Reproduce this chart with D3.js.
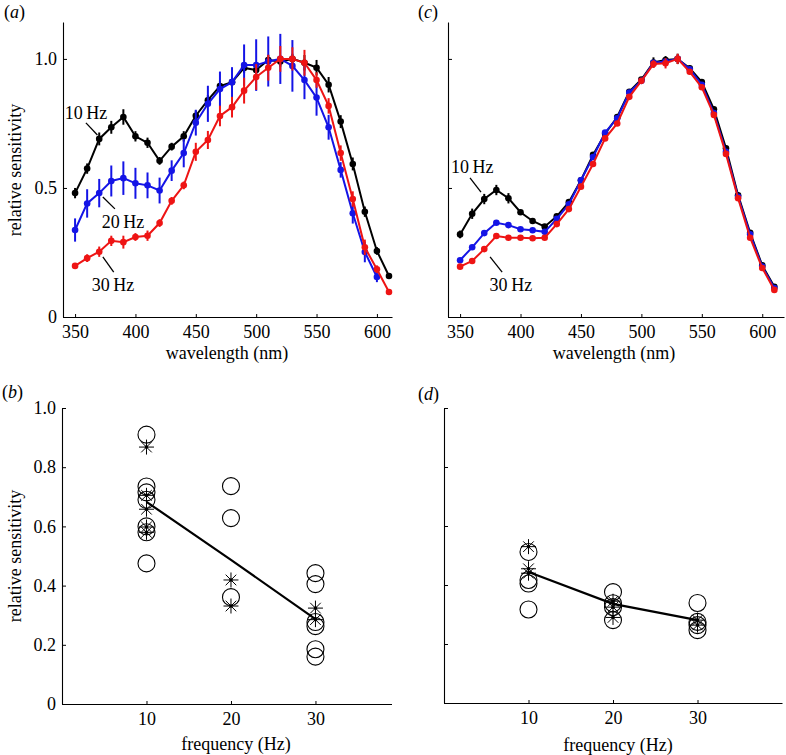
<!DOCTYPE html>
<html>
<head>
<meta charset="utf-8">
<script src="https://cdn.jsdelivr.net/npm/d3@7/dist/d3.min.js"></script>
<style>
  html, body { margin: 0; padding: 0; background: #fff; }
  svg { display: block; }
  svg text { font-family: "Liberation Serif", "Times New Roman", Times, serif !important; fill: #000; }
</style>
</head>
<body>
<svg id="chart" width="786" height="755" font-family="Liberation Serif"></svg>
<script>
// ---------------- DATA ----------------
const wavelengths = [350,360,370,380,390,400,410,420,430,440,450,460,470,480,490,500,510,520,530,540,550,560,570,580,590,600,610];

// Panel (a)
const a10 = [0.48,0.575,0.69,0.735,0.775,0.70,0.675,0.605,0.66,0.70,0.78,0.84,0.895,0.91,0.965,0.957,0.996,0.99,1.0,0.985,0.966,0.90,0.757,0.593,0.408,0.256,0.159];
const a10err = [0.02,0.02,0.025,0.025,0.03,0.02,0.02,0.015,0.015,0.02,0.02,0.02,0.02,0.02,0.02,0.02,0.02,0.02,0.02,0.03,0.03,0.03,0.025,0.025,0.02,0.015,0.01];
const a20 = [0.337,0.44,0.48,0.527,0.538,0.518,0.51,0.49,0.567,0.635,0.753,0.826,0.883,0.91,0.976,0.976,0.99,1.0,0.973,0.918,0.85,0.735,0.57,0.402,0.252,0.155];
const a20err = [0.045,0.055,0.055,0.06,0.065,0.06,0.05,0.05,0.04,0.055,0.05,0.07,0.068,0.058,0.08,0.10,0.097,0.097,0.10,0.074,0.07,0.048,0.03,0.04,0.04,0.02];
const a30 = [0.198,0.228,0.253,0.295,0.29,0.31,0.315,0.364,0.45,0.51,0.64,0.686,0.779,0.813,0.877,0.93,0.966,1.0,1.0,0.985,0.918,0.818,0.635,0.457,0.27,0.185,0.097];
const a30err = [0.01,0.015,0.02,0.02,0.025,0.015,0.02,0.015,0.015,0.015,0.035,0.035,0.04,0.04,0.05,0.05,0.05,0.05,0.045,0.05,0.03,0.03,0.03,0.03,0.03,0.015,0.01];

// Panel (c)
const c10 = [0.32,0.40,0.457,0.492,0.46,0.406,0.372,0.35,0.39,0.445,0.53,0.628,0.71,0.775,0.873,0.92,0.986,0.996,1.0,0.964,0.91,0.805,0.654,0.472,0.326,0.20,0.117];
const c10err = [0.015,0.02,0.02,0.02,0.02,0.01,0.01,0.01,0.01,0.01,0.01,0.01,0.01,0.01,0.01,0.01,0.02,0.015,0.02,0.01,0.01,0.01,0.01,0.01,0.01,0.01,0.005];
const c20 = [0.22,0.27,0.325,0.365,0.356,0.34,0.336,0.33,0.38,0.437,0.53,0.62,0.715,0.77,0.87,0.915,0.985,0.99,1.0,0.96,0.90,0.79,0.64,0.466,0.32,0.195,0.112];
const c20err = [0.008,0.008,0.008,0.008,0.008,0.006,0.006,0.006,0.006,0.006,0.006,0.008,0.008,0.008,0.008,0.008,0.01,0.01,0.01,0.008,0.008,0.008,0.008,0.006,0.006,0.006,0.005];
const c30 = [0.195,0.217,0.263,0.314,0.307,0.307,0.305,0.307,0.36,0.418,0.505,0.593,0.692,0.75,0.853,0.915,0.98,0.983,1.0,0.95,0.89,0.783,0.632,0.46,0.307,0.19,0.105];
const c30err = [0.006,0.006,0.008,0.008,0.006,0.006,0.006,0.006,0.006,0.008,0.008,0.01,0.01,0.01,0.01,0.01,0.015,0.02,0.02,0.01,0.01,0.01,0.01,0.01,0.008,0.006,0.005];

// Panel (b) / (d): frequency scatter
const freqs = [10, 20, 30];
const bCircles = [[0.91,0.735,0.715,0.69,0.60,0.58,0.475],[0.736,0.628,0.361],[0.442,0.405,0.277,0.263,0.185,0.16]];
const bStars   = [[0.868,0.705,0.658,0.598,0.58],[0.419,0.331],[0.324,0.285]];
const bMean    = [0.683,0.487,0.287];
const dCircles = [[0.512,0.417,0.405,0.317],[0.376,0.338,0.325,0.281],[0.339,0.275,0.264,0.247]];
const dStars   = [[0.53,0.455,0.44],[0.345,0.325,0.29],[0.281,0.264]];
const dMean    = [0.444,0.336,0.281];

// tick labels
const ticksA = [0, 0.5, 1.0];
const ticksB = [0, 0.2, 0.4, 0.6, 0.8, 1.0];
const ticksWave = [350,400,450,500,550,600];
const ticksFreq = [10,20,30];

const seriesColors = {k:"#000000", b:"#1414e6", r:"#ee1414"};

// ---------------- DRAW ----------------
const svg = d3.select("#chart");
const FS = 18;
const FONT = "Liberation Serif";

function fmt(d){ return d === 0 ? "0" : d3.format(".1f")(d); }

function drawAxes(g, x, y, yTicks, showYLabels, xTicks, xTitle, yTitle, xTitlePos, yTitlePos) {
  const yAx = d3.axisLeft(y).tickValues(yTicks).tickSizeInner(-4).tickSizeOuter(0).tickPadding(6)
      .tickFormat(showYLabels ? fmt : () => "");
  const gy = g.append("g").attr("transform", `translate(${x.range()[0]},0)`).call(yAx);
  const xAx = d3.axisBottom(x).tickValues(xTicks).tickSizeInner(-3).tickSizeOuter(0).tickPadding(8).tickFormat(d3.format("d"));
  const gx = g.append("g").attr("transform", `translate(0,${y.range()[0]})`).call(xAx);
  [gx, gy].forEach(a => {
    a.attr("font-family", FONT).attr("font-size", FS);
    a.selectAll("text").attr("fill", "#000");
    a.selectAll("line").attr("stroke", "#000");
    a.select(".domain").attr("stroke", "#000").attr("stroke-width", 1.1);
  });
  if (xTitle) g.append("text").attr("x", xTitlePos[0]).attr("y", xTitlePos[1]).attr("text-anchor","middle")
      .attr("font-size", FS).text(xTitle);
  if (yTitle) g.append("text").attr("transform", `translate(${yTitlePos[0]},${yTitlePos[1]}) rotate(-90)`)
      .attr("text-anchor","middle").attr("font-size", FS).text(yTitle);
}

function panelLabel(x0, y0, letter) {
  const t = svg.append("text").attr("x", x0).attr("y", y0).attr("font-size", FS);
  t.append("tspan").text("(");
  t.append("tspan").attr("font-style","italic").text(letter);
  t.append("tspan").text(")");
}

function drawSeries(g, x, y, vals, errs, color) {
  const pts = vals.map((v,i) => ({w: wavelengths[i], v: v, e: errs[i]}));
  g.append("g").selectAll("line").data(pts).join("line")
    .attr("x1", d => x(d.w)).attr("x2", d => x(d.w))
    .attr("y1", d => y(d.v - d.e)).attr("y2", d => y(d.v + d.e))
    .attr("stroke", color).attr("stroke-width", 2);
  g.append("path").datum(pts)
    .attr("d", d3.line().x(d => x(d.w)).y(d => y(d.v)))
    .attr("fill","none").attr("stroke", color).attr("stroke-width", 2);
  g.append("g").selectAll("circle").data(pts).join("circle")
    .attr("cx", d => x(d.w)).attr("cy", d => y(d.v)).attr("r", 3.3).attr("fill", color);
}

function annot(g, x, y, a) {
  g.append("text").attr("x", x(a.tx)).attr("y", y(a.ty)).attr("text-anchor","middle")
    .attr("font-size", FS).text(a.text);
  g.append("line").attr("x1", x(a.l[0])).attr("y1", y(a.l[1])).attr("x2", x(a.l[2])).attr("y2", y(a.l[3]))
    .attr("stroke","#000").attr("stroke-width",1.3);
}

// Panel (a)
{
  const g = svg.append("g");
  const x = d3.scaleLinear().domain([340, 612.5]).range([63, 392]);
  const y = d3.scaleLinear().domain([0, 1.143]).range([317, 22]);
  drawAxes(g, x, y, ticksA, true, ticksWave, "wavelength (nm)", "relative sensitivity", [227, 359], [21, 170]);
  drawSeries(g, x, y, a10, a10err, seriesColors.k);
  drawSeries(g, x, y, a20, a20err, seriesColors.b);
  drawSeries(g, x, y, a30, a30err, seriesColors.r);
  annot(g, x, y, {text:"10\u2009Hz", tx:359, ty:0.767, l:[359,0.752,368.5,0.705]});
  annot(g, x, y, {text:"20\u2009Hz", tx:389.7, ty:0.345, l:[373,0.465,383,0.419]});
  annot(g, x, y, {text:"30\u2009Hz", tx:381.4, ty:0.10, l:[373,0.233,382,0.174]});
  panelLabel(4, 18, "a");
}

// Panel (c)
{
  const g = svg.append("g");
  const x = d3.scaleLinear().domain([340, 618]).range([448, 784]);
  const y = d3.scaleLinear().domain([0, 1.143]).range([317, 22]);
  drawAxes(g, x, y, ticksA, false, ticksWave, "wavelength (nm)", null, [614, 359], null);
  drawSeries(g, x, y, c10, c10err, seriesColors.k);
  drawSeries(g, x, y, c20, c20err, seriesColors.b);
  drawSeries(g, x, y, c30, c30err, seriesColors.r);
  annot(g, x, y, {text:"10\u2009Hz", tx:360, ty:0.558, l:[358.2,0.539,367.3,0.484]});
  annot(g, x, y, {text:"30\u2009Hz", tx:392, ty:0.10, l:[374.8,0.233,384.8,0.174]});
  panelLabel(418, 18, "c");
}

function drawScatter(g, x, y, circles, stars, mean) {
  g.append("path").datum(mean.map((v,i) => [freqs[i], v]))
    .attr("d", d3.line().x(d => x(d[0])).y(d => y(d[1])))
    .attr("fill","none").attr("stroke","#000").attr("stroke-width",2.2);
  circles.forEach((arr, i) => {
    g.append("g").selectAll("circle").data(arr).join("circle")
      .attr("cx", x(freqs[i])).attr("cy", d => y(d)).attr("r", 8.5)
      .attr("fill","none").attr("stroke","#000").attr("stroke-width",1.1);
  });
  const R = 7.5, q = R * Math.SQRT1_2;
  const starPath = `M${-R},0L${R},0M0,${-R}L0,${R}M${-q},${-q}L${q},${q}M${-q},${q}L${q},${-q}`;
  stars.forEach((arr, i) => {
    const s = g.append("g").selectAll("g").data(arr).join("g")
      .attr("transform", d => `translate(${x(freqs[i])},${y(d)})`);
    s.append("path").attr("d", starPath).attr("stroke","#000").attr("stroke-width",1).attr("fill","none");
    s.append("circle").attr("r",1.8).attr("fill","#000");
  });
}

// Panel (b)
{
  const g = svg.append("g");
  const x = d3.scaleLinear().domain([0, 39]).range([62, 391.5]);
  const y = d3.scaleLinear().domain([0, 1]).range([704, 408]);
  drawAxes(g, x, y, ticksB, true, ticksFreq, "frequency (Hz)", "relative sensitivity", [236, 750], [21, 556]);
  drawScatter(g, x, y, bCircles, bStars, bMean);
  panelLabel(2, 398, "b");
}

// Panel (d)
{
  const g = svg.append("g");
  const x = d3.scaleLinear().domain([0, 40]).range([444, 782]);
  const y = d3.scaleLinear().domain([0, 1]).range([703, 408]);
  drawAxes(g, x, y, ticksB, false, ticksFreq, "frequency (Hz)", null, [618, 751], null);
  drawScatter(g, x, y, dCircles, dStars, dMean);
  panelLabel(418, 400, "d");
}
</script>
</body>
</html>
